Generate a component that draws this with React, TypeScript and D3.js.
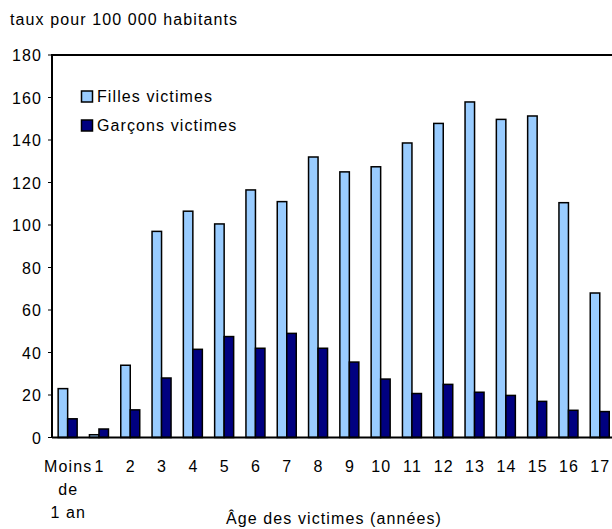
import React from "react";
import * as d3 from "d3";

const categories: string[][] = [
  ["Moins", "de", "1 an"], ["1"], ["2"], ["3"], ["4"], ["5"], ["6"], ["7"], ["8"], ["9"],
  ["10"], ["11"], ["12"], ["13"], ["14"], ["15"], ["16"], ["17"],
];
const filles = [23, 1.3, 34, 97, 106.5, 100.5, 116.5, 111, 132, 125, 127.4, 138.6, 147.8, 157.9, 149.7, 151.3, 110.5, 68];
const garcons = [8.8, 4, 13, 28, 41.5, 47.5, 42, 49, 42, 35.5, 27.5, 20.7, 25, 21.3, 19.8, 17, 12.8, 12.2];
const yTicks = [0, 20, 40, 60, 80, 100, 120, 140, 160, 180];
const seriesNames = ["Filles victimes", "Garçons victimes"];
const colors = ["#99CCFF", "#000080"];

const W = 612, H = 529;
const left = 52, top = 55, bottom = 437.5;
const band = 31.3;
const nBands = 19;
const font = "'Liberation Sans', Arial, Helvetica, sans-serif";
const ls = 1.1;

export default function App() {
  const x = d3.scaleBand<number>().domain(d3.range(nBands)).range([left, left + band * nBands]).paddingInner(0).paddingOuter(0);
  const y = d3.scaleLinear().domain([0, 180]).range([bottom, top]);
  const bw = 9.5;
  const series = [filles, garcons];
  return (
    <svg width={W} height={H} style={{ position: "absolute", left: 0, top: 0, background: "#fff" }} fontFamily={font} letterSpacing={ls}>
      <text x={10} y={25} fontSize={16} fill="#000">taux pour 100 000 habitants</text>
      <line x1={left} x2={W} y1={top} y2={top} stroke="#000" strokeWidth={2} />
      {series.map((vals, si) =>
        vals.map((v, i) => {
          const cx = (x(i) as number) + x.bandwidth() / 2;
          const x0 = si === 0 ? cx - bw : cx;
          return (
            <rect key={`${si}-${i}`} x={x0} y={y(v)} width={bw} height={bottom - y(v)}
              fill={colors[si]} stroke="#000" strokeWidth={1.5} />
          );
        })
      )}
      <line x1={left} x2={left} y1={top - 1} y2={bottom} stroke="#000" strokeWidth={2} />
      <line x1={left} x2={W} y1={bottom} y2={bottom} stroke="#000" strokeWidth={2} />
      {yTicks.map((t) => (
        <g key={t}>
          <line x1={left - 4} x2={left} y1={y(t)} y2={y(t)} stroke="#000" strokeWidth={1} />
          <text x={42} y={y(t) + 6} fontSize={16} textAnchor="end">{t}</text>
        </g>
      ))}
      {categories.map((lines, i) => {
        const cx = (x(i) as number) + x.bandwidth() / 2 + ls / 2;
        return (
          <text key={i} x={cx} y={472} fontSize={16} textAnchor="middle">
            {lines.map((l, j) => (
              <tspan key={j} x={cx} dy={j === 0 ? 0 : 23}>{l}</tspan>
            ))}
          </text>
        );
      })}
      <text x={334} y={524} fontSize={16} textAnchor="middle">Âge des victimes (années)</text>
      {seriesNames.map((n, i) => (
        <g key={n}>
          <rect x={81.5} y={91 + i * 29} width={11} height={11} fill={colors[i]} stroke="#000" strokeWidth={1.5} />
          <text x={97} y={102 + i * 29} fontSize={16}>{n}</text>
        </g>
      ))}
    </svg>
  );
}
